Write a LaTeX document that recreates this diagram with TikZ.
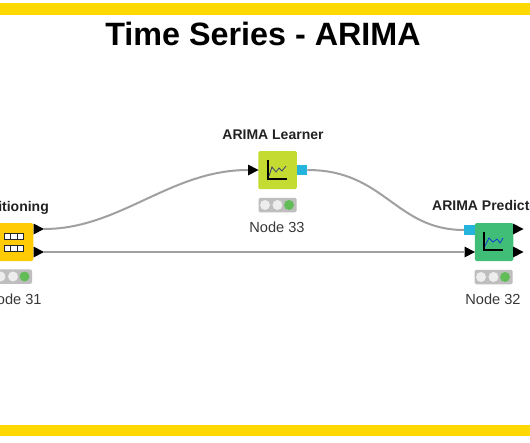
\documentclass[tikz,border=0pt]{standalone}
\usepackage{fontspec}
\setmainfont{Liberation Sans}
\usetikzlibrary{calc}
\definecolor{band}{HTML}{FFD800}
\definecolor{partcol}{HTML}{FFCB05}
\definecolor{learncol}{HTML}{C4DC32}
\definecolor{predcol}{HTML}{40BE78}
\definecolor{portblue}{HTML}{25B4DC}
\definecolor{wire}{HTML}{A0A0A0}
\definecolor{tl}{HTML}{BEBEBE}
\definecolor{tltxt}{HTML}{222222}
\definecolor{lampoff}{HTML}{EDEDED}
\definecolor{lampon}{HTML}{62BC58}
\tikzset{
  x=1pt,y=-1pt,
  knode/.style={rounded corners=1.5pt,minimum width=38.5pt,minimum height=38pt,inner sep=0pt,draw=none},
  tlbox/.style={fill=tl,rounded corners=1.5pt,minimum width=38pt,minimum height=14.5pt,inner sep=0pt},
  bport/.style={fill=portblue,minimum width=10.5pt,minimum height=10pt,inner sep=0pt},
  wireline/.style={draw=wire,line width=2pt},
  nlabel/.style={font=\fontsize{14}{16}\selectfont\bfseries,text=tltxt,inner sep=0pt},
  ntext/.style={font=\fontsize{14.6}{16}\selectfont,text=tltxt!90,inner sep=0pt},
  lamp/.style={circle,fill=#1,minimum size=10pt,inner sep=0pt},
  tab/.style={draw=black!85,line width=0.8pt,fill=white}
}
\newcommand{\tritip}[2]{\fill[black] (#1,#2-5.5) -- (#1+10.5,#2) -- (#1,#2+5.5) -- cycle;}
\newcommand{\lamps}[1]{%
  \node[lamp=lampoff] at ($(#1)+(-12.5,0)$) {};
  \node[lamp=lampoff] at ($(#1)+(0,0)$) {};
  \node[lamp=lampon] at ($(#1)+(11.5,0)$) {};}
\begin{document}
\begin{tikzpicture}
\useasboundingbox (0,0) rectangle (530,442);
\clip (0,0) rectangle (530,442);
\fill[white] (0,0) rectangle (530,442);
\fill[band] (0,3) rectangle (530,15);
\fill[band] (0,425) rectangle (530,436);
\node[font=\fontsize{32.3}{36}\selectfont\bfseries,inner sep=0pt,anchor=base] (title) at (263,45.5) {Time Series - ARIMA};

% nodes
\node[knode,fill=partcol] (part) at (14,242) {};
\node[knode,fill=learncol] (learn) at (277.5,170) {};
\node[knode,fill=predcol] (pred) at (494,242) {};

% ports
\coordinate (pa) at (44,229);
\coordinate (pb) at (44,252);
\coordinate (li) at (248,170);
\node[bport] (lo) at (302,170) {};
\node[bport] (pi) at (469.5,230) {};
\coordinate (pj) at (464,252);

% connectors
\draw[wireline] (pa) .. controls (120,229) and (170,170) .. (li);
\draw[wireline] (lo.east) .. controls (385,170) and (395,230) .. (pi.west);
\draw[wireline] (pb) -- (pj);

% triangles
\tritip{33.5}{229}
\tritip{33.5}{252}
\tritip{248}{170}
\tritip{464.5}{252}
\tritip{513}{229}
\tritip{513}{252}

% table icon
\foreach \yy in {236,248}{
  \foreach \xx in {4.5,10.8,17.1}{
    \draw[tab] (\xx,\yy-3) rectangle +(6.3,6);
  }
}

% chart icons
\draw[line width=1.1pt,black] (268,160) -- (268,179) -- (287,179);
\draw[line width=.8pt,blue!55!learncol!70!black] (269,176) -- (272,167) -- (276,172) -- (279,168) -- (282,171) -- (286,166);
\draw[line width=1.1pt,black] (484,232) -- (484,250) -- (503,250);
\draw[line width=.8pt,blue!70!predcol] (485,246) -- (489,238) -- (493,242) -- (497,239) -- (500,243) -- (503,238);

% traffic lights
\node[tlbox] (tla) at (13,276.5) {};
\node[tlbox] (tlb) at (277.5,205) {};
\node[tlbox] (tlc) at (493.5,277) {};
\lamps{tla}
\lamps{tlb}
\lamps{tlc}

% labels
\node[nlabel,anchor=base east] (lpart) at (49,211) {Partitioning};
\node[nlabel,anchor=base] (llearn) at (273,139) {ARIMA Learner};
\node[nlabel,anchor=base west] (lpred) at (432,210) {ARIMA Predictor};
\node[ntext,anchor=base] (n31) at (14,304) {Node 31};
\node[ntext,anchor=base] (n33) at (277,232.5) {Node 33};
\node[ntext,anchor=base] (n32) at (493,304) {Node 32};
\end{tikzpicture}
\end{document}
